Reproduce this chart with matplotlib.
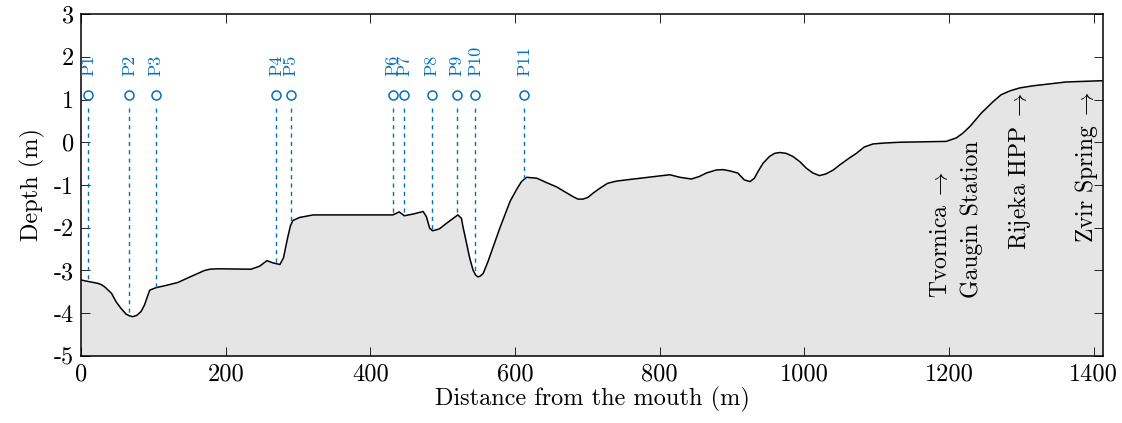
import numpy as np
import matplotlib
matplotlib.use("Agg")
import matplotlib.pyplot as plt

plt.rcParams['font.family'] = ['cmr10', 'DejaVu Serif']
plt.rcParams['mathtext.fontset'] = 'cm'
plt.rcParams['axes.unicode_minus'] = False
plt.rcParams['axes.formatter.use_mathtext'] = False

# Bed profile (distance from mouth, depth)
distance = [0, 5, 14, 23.2, 28, 32.5, 42, 48.5, 55, 62.3, 67, 71.6, 77, 83, 87.7,
            91.4, 95, 104, 115, 134, 152, 161.4, 170.7, 178, 189, 235, 247, 257,
            265, 275, 280, 283, 286, 289.6, 293, 302, 321, 367, 431, 440, 447,
            459, 473, 477.5, 482, 486, 491, 496, 505, 521, 526, 528, 533, 537.4,
            542, 545.7, 549, 552, 556, 562.7, 570, 579, 593, 602, 609, 616, 630,
            643, 657, 668, 680, 687, 694, 700.8, 708, 717, 728, 740, 754, 814,
            828, 844, 855, 864.5, 878, 887.5, 897, 908, 917, 925, 931, 935.8,
            943, 952, 959, 966, 975, 984, 993.5, 1003, 1012, 1021, 1030, 1040,
            1049, 1063, 1072, 1083, 1095, 1109, 1132, 1196, 1210, 1219, 1229,
            1244.6, 1261, 1272, 1284, 1297.6, 1316, 1362, 1413]
depth = [-3.22, -3.24, -3.27, -3.30, -3.33, -3.38, -3.53, -3.73, -3.88, -4.02,
         -4.06, -4.08, -4.05, -3.96, -3.81, -3.63, -3.46, -3.40, -3.36, -3.28,
         -3.14, -3.07, -3.00, -2.97, -2.96, -2.97, -2.90, -2.77, -2.82, -2.86,
         -2.70, -2.45, -2.21, -1.95, -1.83, -1.76, -1.70, -1.70, -1.70, -1.63,
         -1.72, -1.68, -1.62, -1.74, -2.01, -2.07, -2.05, -2.02, -1.90, -1.70,
         -1.78, -1.97, -2.36, -2.71, -2.99, -3.11, -3.15, -3.13, -3.07, -2.79,
         -2.44, -2.01, -1.39, -1.11, -0.92, -0.82, -0.84, -0.94, -1.04, -1.15,
         -1.27, -1.33, -1.33, -1.29, -1.19, -1.08, -0.96, -0.91, -0.88, -0.76,
         -0.82, -0.86, -0.80, -0.72, -0.65, -0.64, -0.67, -0.72, -0.88, -0.92,
         -0.84, -0.69, -0.49, -0.33, -0.26, -0.24, -0.26, -0.33, -0.45, -0.61,
         -0.72, -0.78, -0.74, -0.65, -0.53, -0.36, -0.26, -0.11, -0.04, -0.02,
         0.00, 0.02, 0.10, 0.21, 0.37, 0.68, 0.95, 1.11, 1.20, 1.27, 1.32, 1.41,
         1.44]

# Measurement points
point_names = ['P1', 'P2', 'P3', 'P4', 'P5', 'P6', 'P7', 'P8', 'P9', 'P10', 'P11']
point_x = [10, 67, 103, 270, 290, 431, 447, 485, 520, 545, 613]
marker_level = 1.1

# Landmark annotations
landmark_texts = [r'Tvornica$\;\rightarrow$', 'Gaugin Station',
                  r'Rijeka HPP$\;\rightarrow$', r'Zvir Spring$\;\rightarrow$']
landmark_x = [1189, 1231, 1298, 1390]
landmark_y = [-3.64, -3.64, 1.16, 1.19]
landmark_va = ['bottom', 'bottom', 'top', 'top']

blue = '#0072BD'
fs = 17.5

fig = plt.figure(figsize=(11.22, 4.23), dpi=100)
ax = fig.add_axes([0.0722, 0.1584, 0.9109, 0.8085])

ax.fill_between(distance, depth, -5, color='#e5e5e5', linewidth=0)
ax.plot(distance, depth, color='black', linewidth=1.1)

bed_at_points = np.interp(point_x, distance, depth)
for name, px, bed in zip(point_names, point_x, bed_at_points):
    ax.plot([px, px], [0.8, bed], color=blue, linestyle=(0, (3, 3)), linewidth=1.0)
    ax.plot(px, marker_level, marker='o', markersize=6.5, markerfacecolor='none',
            markeredgecolor=blue, markeredgewidth=1.1)
    ax.text(px, 1.55, name, rotation=90, ha='center', va='bottom',
            color=blue, fontsize=13)

for t, lx, ly, va in zip(landmark_texts, landmark_x, landmark_y, landmark_va):
    ax.text(lx, ly, t, rotation=90, ha='center', va=va, fontsize=17)

ax.set_xlim(0, 1413)
ax.set_ylim(-5, 3)
ax.set_xticks([0, 200, 400, 600, 800, 1000, 1200, 1400])
ax.set_yticks([-5, -4, -3, -2, -1, 0, 1, 2, 3])
ax.tick_params(direction='in', top=True, right=True, length=6.5, width=0.6,
               labelsize=fs, pad=5)
for s in ax.spines.values():
    s.set_linewidth(1.1)
ax.set_xlabel('Distance from the mouth (m)', fontsize=fs, labelpad=1)
ax.set_ylabel('Depth (m)', fontsize=fs, labelpad=6)

fig.savefig('out.png', dpi=100)
